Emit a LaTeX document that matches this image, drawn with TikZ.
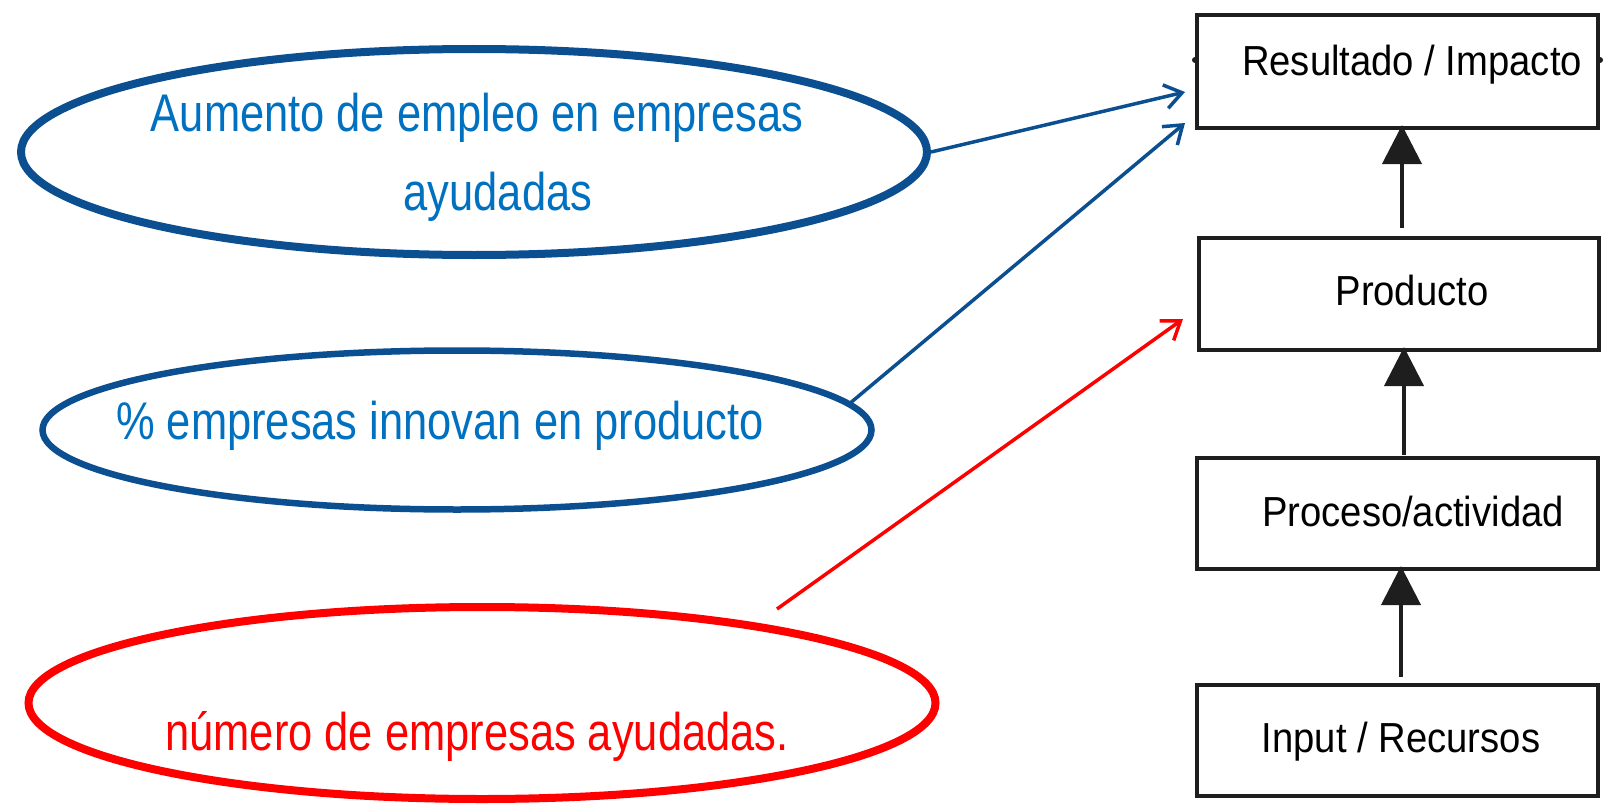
\documentclass[tikz,border=0pt]{standalone}
\usepackage{fontspec}
\setmainfont{Liberation Sans}
\usepackage{graphicx}
\usetikzlibrary{shapes.geometric,arrows.meta,calc}
\definecolor{dblue}{RGB}{11,79,145}
\definecolor{tblue}{RGB}{0,112,192}
\definecolor{bred}{RGB}{255,0,0}
\definecolor{boxline}{RGB}{30,30,30}
\begin{document}
\begin{tikzpicture}[x=1pt,y=-1pt,
  oval/.style={ellipse, inner sep=0pt},
  etext/.style={font=\fontsize{53}{64}\selectfont, inner sep=0pt, anchor=base},
  btext/.style={font=\fontsize{42}{50}\selectfont, inner sep=0pt, anchor=base, text=black},
  stage/.style={draw=boxline, line width=4pt, inner sep=0pt, minimum width=401pt},
  barrow/.style={draw=dblue, line width=3.5pt, -{Straight Barb[length=17pt,width=24pt]}},
  rarrow/.style={draw=bred, line width=3.5pt, -{Straight Barb[length=17pt,width=24pt]}},
  karrow/.style={draw=boxline, line width=4pt, -{Triangle[length=39pt,width=39pt]}}]
\useasboundingbox (0,0) rectangle (1604,808);
% stage boxes
\node[stage, minimum height=113pt] (b1) at (1397.5,71.5) {};
\node[stage, minimum height=112pt, minimum width=400pt] (b2) at (1399,294) {};
\node[stage, minimum height=111pt] (b3) at (1397.5,513.5) {};
\node[stage, minimum height=111pt] (b4) at (1397.5,740.5) {};
\node[btext] (t1) at (1412,75) {\scalebox{0.91}[1]{Resultado / Impacto}};
\node[btext] (t2) at (1412,305) {\scalebox{0.91}[1]{Producto}};
\node[btext] (t3) at (1413,526) {\scalebox{0.91}[1]{Proceso/actividad}};
\node[btext] (t4) at (1401,752) {\scalebox{0.91}[1]{Input / Recursos}};
\coordinate (d1) at (b1.west |- 0,60);
\coordinate (d2) at (b1.east |- 0,60);
\fill[boxline] (d1) circle (3pt);
\fill[boxline] (d2) circle (3pt);
% black vertical arrows
\coordinate (k1) at (1402,228);
\coordinate (k2) at (1404,455);
\coordinate (k3) at (1401,677);
\draw[karrow] (k1) -- ($(k1 |- b1.south)+(0,-5)$);
\draw[karrow] (k2) -- ($(k2 |- b2.south)+(0,-5)$);
\draw[karrow] (k3) -- ($(k3 |- b3.south)+(0,-5)$);
% ellipses
\node[oval, draw=dblue, line width=8pt, minimum width=906pt, minimum height=206pt] (e1) at (474,152) {};
\node[oval, draw=dblue, line width=6.5pt, minimum width=829pt, minimum height=159pt] (e2) at (457,430) {};
\node[oval, draw=bred, line width=8pt, minimum width=907pt, minimum height=192pt] (e3) at (482,703) {};
\node[etext, text=tblue] (l1a) at (477,131) {\scalebox{0.82}[1]{Aumento de empleo en empresas}};
\node[etext, text=tblue] (l1b) at (498,210) {\scalebox{0.82}[1]{ayudadas}};
\node[etext, text=tblue] (l2) at (440,439) {\scalebox{0.82}[1]{\% empresas innovan en producto}};
\node[etext, text=bred] (l3) at (477,750) {\scalebox{0.82}[1]{número de empresas ayudadas.}};
% coloured arrows
\coordinate (a1) at (1185,92);
\coordinate (a2) at (1185,123);
\coordinate (a3) at (1183,319);
\coordinate (r0) at (777,609);
\draw[barrow] (e1.east) -- (a1);
\draw[barrow] (e2.4) -- (a2);
\draw[rarrow] (r0) -- (a3);
\end{tikzpicture}
\end{document}
